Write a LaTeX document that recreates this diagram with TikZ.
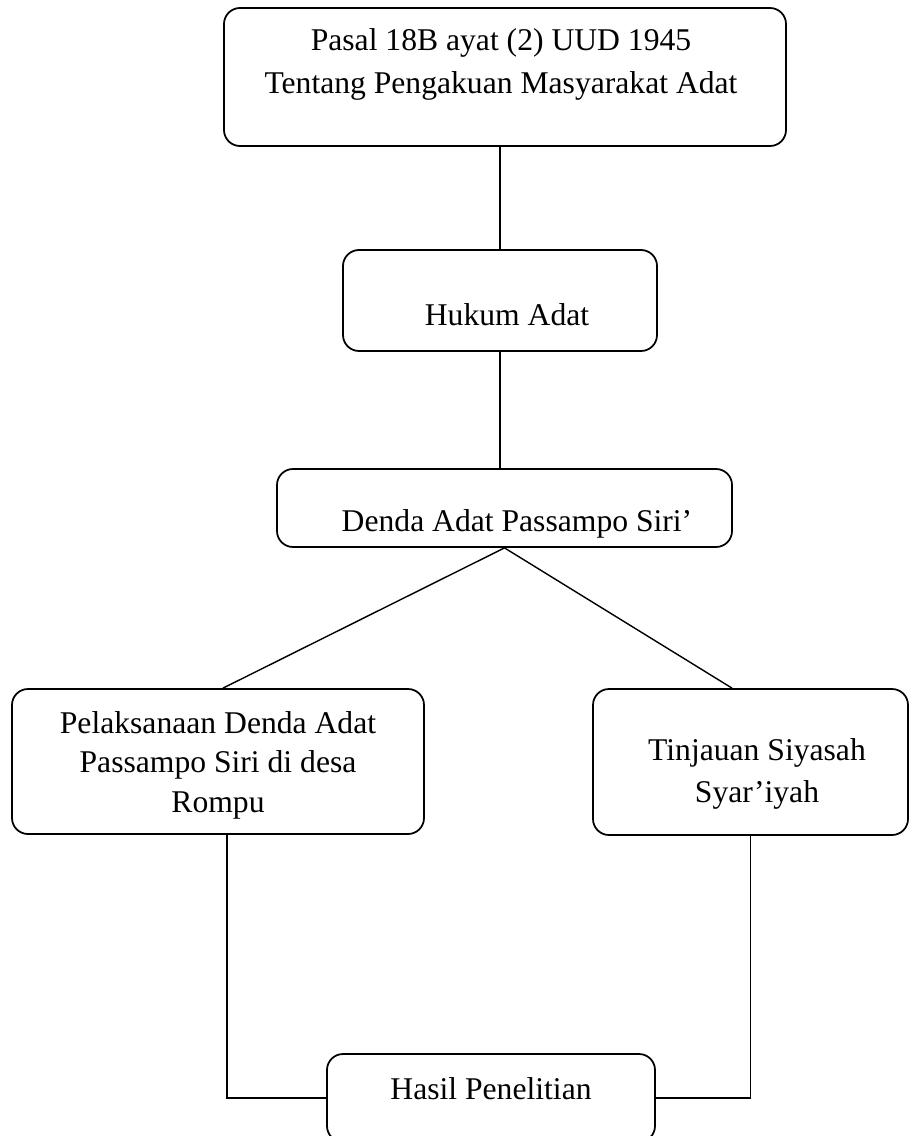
\documentclass[tikz,border=0pt]{standalone}
\usepackage{fontspec}
\setmainfont{Liberation Serif}
\usetikzlibrary{positioning,calc}

\begin{document}
\begin{tikzpicture}[
    box/.style={draw, line width=1pt, rounded corners=0.32cm},
    txt/.style={inner sep=0pt, align=center, font=\fontsize{18}{23.5}\selectfont},
    link/.style={line width=0.8pt}]
    \useasboundingbox (0,0) rectangle (18.18,-22.72);

    % Pasal 18B
    \node[box, minimum width=11.24cm, minimum height=2.76cm] (T) at (10.10, -1.54) {};
    \node[txt, font=\fontsize{18}{24.5}\selectfont] at (10.02, -1.29) {Pasal 18B ayat (2) UUD 1945\\Tentang Pengakuan Masyarakat Adat};

    % Hukum Adat
    \node[box, minimum width=6.28cm, minimum height=2.02cm] (H) at (10.00, -6.01) {};
    \node[txt] at (10.14, -6.30) {Hukum Adat};

    % Denda Adat
    \node[box, minimum width=9.10cm, minimum height=1.56cm] (D) at (10.09, -10.16) {};
    \node[txt] at (10.34, -10.47) {Denda Adat Passampo Siri’};

    % Pelaksanaan
    \node[box, minimum width=8.24cm, minimum height=2.90cm] (L) at (4.36, -15.23) {};
    \node[txt, font=\fontsize{18}{22.5}\selectfont] at (4.36, -15.30) {Pelaksanaan Denda Adat\\Passampo Siri di desa\\Rompu};

    % Tinjauan
    \node[box, minimum width=6.30cm, minimum height=2.92cm] (R) at (15.01, -15.24) {};
    \node[txt] at (15.14, -15.48) {Tinjauan Siyasah\\Syar’iyah};

    % Hasil
    \node[box, minimum width=6.56cm, minimum height=1.76cm] (Hres) at (9.82, -21.96) {};
    \node[txt] at (9.82, -21.78) {Hasil Penelitian};

    % connectors
    \draw[link] (H.north) -- (H.north |- T.south);
    \draw[link] (H.south) -- (H.south |- D.north);
    \draw[link] (D.south) -- ([xshift=0.1cm]L.north);
    \draw[link] (D.south) -- ([xshift=-0.37cm]R.north);
    \draw[link] ([xshift=0.18cm]L.south) |- (Hres.west);
    \draw[link] (R.south) |- (Hres.east);
\end{tikzpicture}
\end{document}
